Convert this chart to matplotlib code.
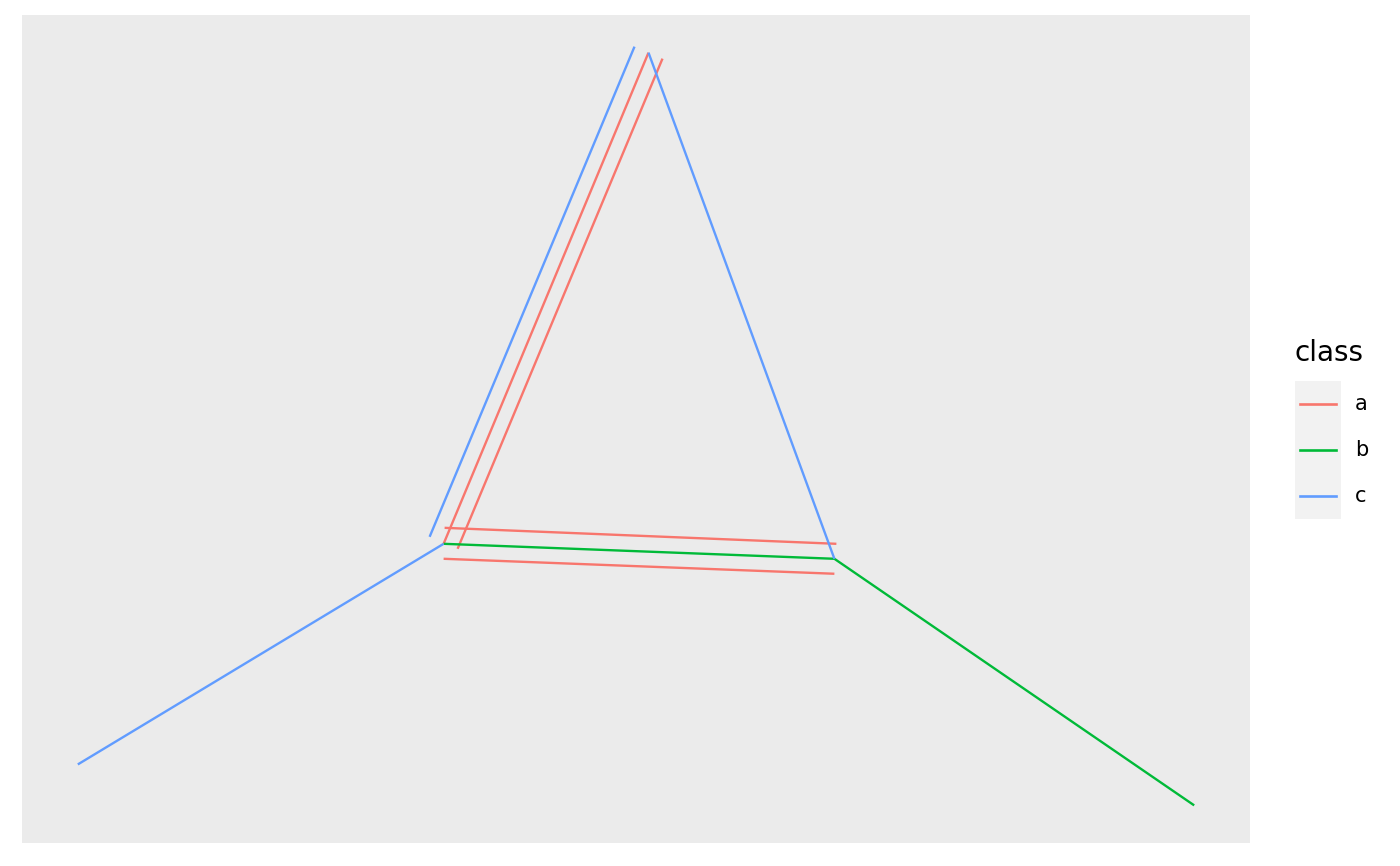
import matplotlib.pyplot as plt
import numpy as np

# node positions (layout coords, y up)
node_x = [0.78, 4.44, 8.35, 6.49, 11.95]
node_y = [1.01, 3.22, 3.07, 8.14, 0.60]

# edges as segments (x0, y0, x1, y1), with parallel offsets for multi-edges
seg_x0 = [4.44, 4.58, 4.45, 4.44, 4.44, 8.35, 4.30, 6.49, 0.78]
seg_y0 = [3.22, 3.17, 3.38, 3.07, 3.22, 3.07, 3.29, 8.14, 1.01]
seg_x1 = [6.49, 6.63, 8.37, 8.35, 8.35, 11.95, 6.35, 8.35, 4.44]
seg_y1 = [8.14, 8.08, 3.22, 2.92, 3.07, 0.60, 8.20, 3.07, 3.22]
seg_class = ["a", "a", "a", "a", "b", "b", "c", "c", "c"]

classes = ["a", "b", "c"]
colors = {"a": "#F8766D", "b": "#00BA38", "c": "#619CFF"}

W, H = 1400, 866
fig = plt.figure(figsize=(W / 100, H / 100), dpi=100)
ax = fig.add_axes([22 / W, (866 - 843) / H, (1250 - 22) / W, (843 - 15) / H])
ax.set_facecolor("#EBEBEB")

for cls in classes:
    for i in range(len(seg_class)):
        if seg_class[i] == cls:
            ax.plot([seg_x0[i], seg_x1[i]], [seg_y0[i], seg_y1[i]],
                    color=colors[cls], lw=1.7, solid_capstyle="butt")

# ggplot-style 5% expansion based on node positions
xr = max(node_x) - min(node_x)
yr = max(node_y) - min(node_y)
ax.set_xlim(min(node_x) - 0.05 * xr, max(node_x) + 0.05 * xr)
ax.set_ylim(min(node_y) - 0.05 * yr, max(node_y) + 0.05 * yr)
ax.set_xticks([])
ax.set_yticks([])
for s in ax.spines.values():
    s.set_visible(False)

# legend
fig.text(1294 / W, 1 - 353 / H, "class", fontsize=20, va="center", ha="left")
lax = fig.add_axes([1295 / W, (866 - 519) / H, 46 / W, 138 / H])
lax.set_facecolor("#F2F2F2")
lax.set_xlim(0, 1)
lax.set_ylim(0, 3)
for k, cls in enumerate(classes):
    yy = 2.5 - k
    lax.plot([0.1, 0.9], [yy, yy], color=colors[cls], lw=1.9)
    fig.text(1355 / W, 1 - (404 + 46 * k) / H, cls, fontsize=15, va="center", ha="left")
lax.set_xticks([])
lax.set_yticks([])
for s in lax.spines.values():
    s.set_visible(False)

fig.savefig("out.png", dpi=100)
